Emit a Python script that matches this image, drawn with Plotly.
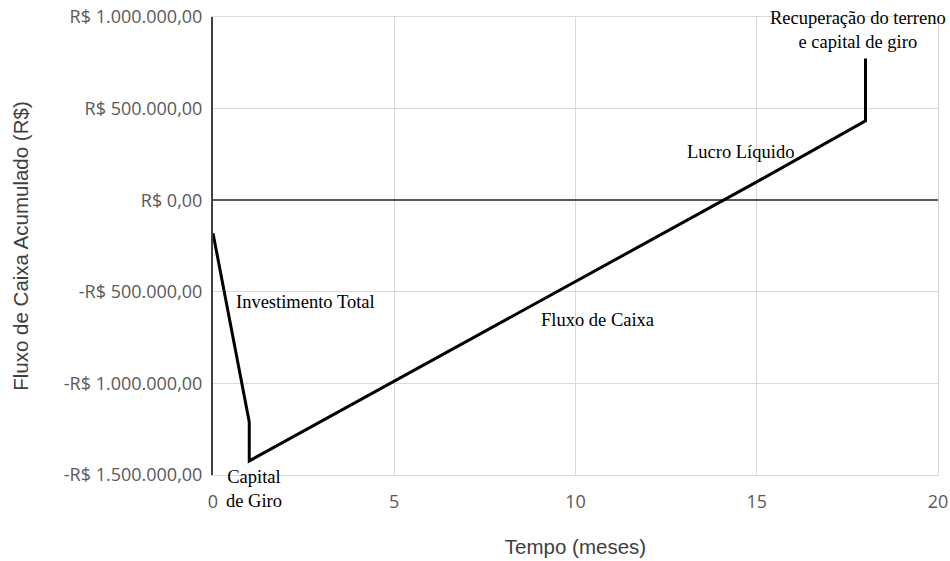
import plotly.graph_objects as go

# Data (months, cumulative cash flow in R$)
tempo = [0, 1, 1, 15, 18, 18]
fluxo = [-180000, -1210000, -1423000, 100000, 433000, 773000]

y_range = [-1500000, 1000000]
y_tickvals = [1000000, 500000, 0, -500000, -1000000, -1500000]
y_ticktext = ["R$ 1.000.000,00", "R$ 500.000,00", "R$ 0,00",
              "-R$ 500.000,00", "-R$ 1.000.000,00", "-R$ 1.500.000,00"]
x_range = [0, 20]
x_tickvals = [0, 5, 10, 15, 20]
x_ticktext = ["0", "5", "10", "15", "20"]

labels = ["Terreno", "Investimento Total", "Capital<br>de Giro", "Fluxo de Caixa",
          "Lucro Líquido", "Recuperação do terreno<br>e capital de giro"]
label_x = [-0.22, 0.59, 1.12, 10.62, 14.56, 17.8]
label_y = [-224000, -557000, -1577000, -655000, 262000, 930000]
label_anchor = ["right", "left", "center", "center", "center", "center"]

fig = go.Figure()
fig.add_trace(go.Scatter(x=tempo, y=fluxo, mode="lines",
                         line=dict(color="black", width=3), showlegend=False,
                         cliponaxis=False))
# invisible trace on the right-side axis (only to draw the right frame line)
fig.add_trace(go.Scatter(x=tempo, y=fluxo, yaxis="y2", mode="lines",
                         line=dict(color="rgba(0,0,0,0)", width=0),
                         showlegend=False, hoverinfo="skip"))

for t, xx, yy, an in zip(labels, label_x, label_y, label_anchor):
    # paper-referenced y so labels just outside the axis range still show
    yp = (yy - y_range[0]) / (y_range[1] - y_range[0])
    fig.add_annotation(x=xx, y=yp, xref="x", yref="paper", text=t, showarrow=False,
                       xanchor=an, yanchor="middle",
                       font=dict(family="Liberation Serif", size=18.5, color="black"))

fig.update_layout(
    width=950, height=561,
    margin=dict(l=213, r=12, t=17, b=86),
    plot_bgcolor="white", paper_bgcolor="white",
    xaxis=dict(range=x_range, tickvals=x_tickvals, ticktext=x_ticktext,
               showgrid=True, gridcolor="#d9d9d9", gridwidth=1,
               zeroline=False, showline=True, linecolor="#d9d9d9", linewidth=1,
               mirror=True, ticks="",
               ticklabelstandoff=10, ticklabeloverflow="allow",
               tickfont=dict(family="Open Sans", size=18, color="#595959"),
               title=dict(text="Tempo (meses)", standoff=28,
                          font=dict(family="Liberation Sans", size=20.5, color="#404040")),
               automargin=False),
    yaxis=dict(range=y_range, tickvals=y_tickvals, ticktext=y_ticktext,
               showgrid=True, gridcolor="#d9d9d9", gridwidth=1,
               zeroline=True, zerolinecolor="#595959", zerolinewidth=2,
               showline=True, linecolor="#404040", linewidth=2, mirror=False,
               ticks="", ticklabelstandoff=5, ticklabeloverflow="allow",
               tickfont=dict(family="Open Sans", size=18, color="#595959"),
               title=dict(text="Fluxo de Caixa Acumulado (R$)", standoff=30,
                          font=dict(family="Liberation Sans", size=20.5, color="#404040")),
               automargin=False),
    yaxis2=dict(range=y_range, overlaying="y", side="right", showgrid=False,
                zeroline=False, showticklabels=False, ticks="",
                showline=True, linecolor="#d9d9d9", linewidth=1),
)

fig.write_html("out.html", config={"displayModeBar": False},
               post_script="document.body.style.margin='0';document.body.style.overflow='hidden';")
